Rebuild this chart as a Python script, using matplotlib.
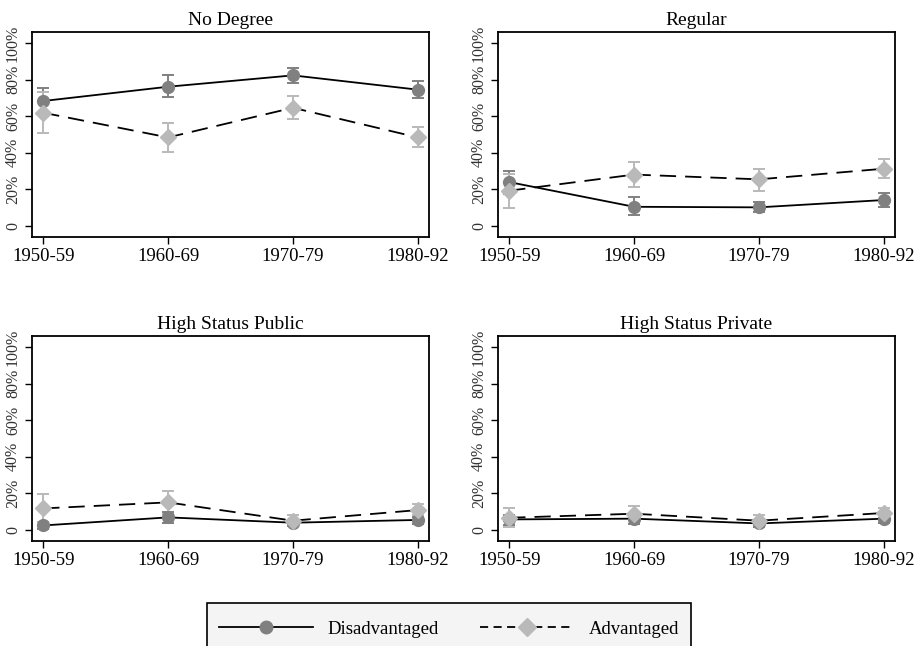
import numpy as np
import matplotlib
matplotlib.use("Agg")
import matplotlib.pyplot as plt
from matplotlib.lines import Line2D
from matplotlib.patches import Rectangle

plt.rcParams["font.family"] = ["Liberation Serif", "DejaVu Serif"]

# Data (percent)
cohorts = ["1950-59", "1960-69", "1970-79", "1980-92"]
panels = ["No Degree", "Regular", "High Status Public", "High Status Private"]

# Disadvantaged: estimate, lower bound, upper bound
dis_est = [
    [68.3, 76.1, 82.3, 74.5],
    [24.0, 10.5, 10.2, 14.2],
    [2.5, 6.9, 4.0, 5.5],
    [5.8, 6.2, 3.6, 6.2],
]
dis_lo = [
    [61.0, 70.3, 78.3, 70.0],
    [17.5, 5.8, 7.5, 10.5],
    [0.3, 3.6, 2.2, 3.3],
    [2.7, 3.1, 1.8, 3.6],
]
dis_hi = [
    [75.6, 82.3, 86.3, 79.0],
    [30.2, 15.7, 13.3, 17.9],
    [4.5, 10.0, 5.5, 7.3],
    [8.2, 8.7, 4.9, 8.2],
]

# Advantaged: estimate, lower bound, upper bound
adv_est = [
    [61.9, 48.4, 64.6, 48.4],
    [19.3, 28.1, 25.5, 31.3],
    [11.8, 15.1, 5.1, 10.9],
    [6.7, 8.9, 5.1, 9.3],
]
adv_lo = [
    [51.0, 40.6, 58.3, 43.3],
    [9.8, 21.1, 19.3, 26.4],
    [4.5, 9.0, 2.7, 8.0],
    [1.8, 5.5, 2.7, 6.4],
]
adv_hi = [
    [73.4, 56.2, 71.2, 53.9],
    [28.4, 34.8, 31.0, 36.4],
    [19.6, 21.5, 8.0, 14.4],
    [12.2, 13.3, 8.2, 12.2],
]

yticks = [0, 20, 40, 60, 80, 100]
ytick_labels = ["0", "20%", "40%", "60%", "80%", "100%"]

dark = "#808080"
light = "#b9b9b9"
dash = (0, (9, 5))

fig = plt.figure(figsize=(9.21, 6.46), dpi=100)

W, H = 921, 646
boxes = [
    (32, 32, 429, 237),
    (498, 32, 895, 237),
    (32, 336, 429, 541),
    (498, 336, 895, 541),
]

x = np.arange(len(cohorts))

for i, (l, t, r, b) in enumerate(boxes):
    ax = fig.add_axes([l / W, 1 - b / H, (r - l) / W, (b - t) / H])

    for est, lo, hi, col, ls, mk, ms in [
        (dis_est[i], dis_lo[i], dis_hi[i], dark, "-", "o", 8.5),
        (adv_est[i], adv_lo[i], adv_hi[i], light, dash, "D", 8.5),
    ]:
        est = np.array(est)
        err = [est - np.array(lo), np.array(hi) - est]
        ax.plot(x, est, color="black", linestyle=ls, linewidth=1.3, zorder=2)
        ax.errorbar(x, est, yerr=err, fmt=mk, color=col, ecolor=col,
                    markersize=ms, elinewidth=1.4, capsize=4, capthick=1.4,
                    zorder=3)

    ax.set_xlim(-0.09, 3.09)
    ax.set_ylim(-6, 106)
    ax.set_xticks(x)
    ax.set_xticklabels(cohorts, fontsize=13.5)
    ax.set_yticks(yticks)
    ax.set_yticklabels(ytick_labels, fontsize=11.5, rotation=90, va="center",
                       color="#333333")
    ax.tick_params(axis="x", length=5, width=1, pad=3)
    ax.tick_params(axis="y", length=5, width=1, pad=3)
    for s in ax.spines.values():
        s.set_linewidth(1.3)
    ax.set_title(panels[i], fontsize=14, pad=5)

# legend frame (runs off the bottom edge, as in the reference)
fig.patches.append(Rectangle((207 / W, 1 - 680 / H), (691 - 207) / W,
                             (680 - 603) / H, transform=fig.transFigure,
                             facecolor="#f4f4f4", edgecolor="black",
                             linewidth=1.2, zorder=0))

handles = [
    Line2D([], [], color="black", linewidth=1.3, marker="o", markersize=9,
           markerfacecolor=dark, markeredgecolor=dark),
    Line2D([], [], color="black", linewidth=1.3, linestyle=(0, (4.5, 3)),
           marker="D", markersize=9, markerfacecolor=light,
           markeredgecolor=light),
]
leg = fig.legend(handles, ["Disadvantaged", "Advantaged"], ncol=2,
                 loc="center", bbox_to_anchor=(449 / W, 1 - 629 / H),
                 fontsize=13.5, handlelength=5, columnspacing=2.2,
                 handletextpad=0.8, borderpad=0.3, frameon=False)

fig.savefig("out.png", dpi=100)
